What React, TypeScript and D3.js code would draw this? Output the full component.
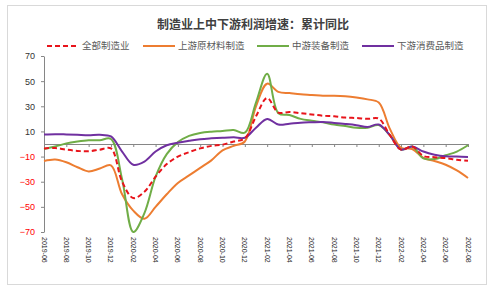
import React, { useEffect, useRef } from "react";
import * as d3 from "d3";

// 月份（累计同比，2019-06 至 2022-08）
const months = [
  "2019-06", "2019-07", "2019-08", "2019-09", "2019-10", "2019-11", "2019-12",
  "2020-01", "2020-02", "2020-03", "2020-04", "2020-05", "2020-06", "2020-07",
  "2020-08", "2020-09", "2020-10", "2020-11", "2020-12", "2021-01", "2021-02",
  "2021-03", "2021-04", "2021-05", "2021-06", "2021-07", "2021-08", "2021-09",
  "2021-10", "2021-11", "2021-12", "2022-01", "2022-02", "2022-03", "2022-04",
  "2022-05", "2022-06", "2022-07", "2022-08",
];

// 全部制造业
const allMfg = [
  -3.5, -3.2, -4.5, -5.5, -5.8, -4.5, -3.5, -30, -43, -38, -26, -16, -10, -6.5,
  -3.5, -1.5, -0.5, 2, 4.5, 22, 36.6, 25, 25.5, 24.5, 23.5, 22.5, 22, 21,
  20.7, 20, 20.2, 7, -4.5, -2, -9.5, -10.5, -11.2, -12.5, -13.3,
];

// 上游原材料制造
const upstream = [
  -13.5, -12.3, -14.5, -18.5, -21.8, -19.5, -17, -40, -53, -59.5, -50, -40, -31,
  -25, -19, -13, -5, -1.5, 2, 30, 48, 41.5, 40.5, 39.5, 39, 38.4, 38.4, 38, 37,
  35.5, 33, 12, -3, -4, -11, -13.5, -16.5, -21, -27,
];

// 中游装备制造
const midstream = [
  -4, -2, 0.5, 2, 3, 3, 4, -28, -70, -55, -26, -8, 1.5, 6.5, 8.8, 9.8, 10.3,
  11.2, 9, 33, 55.9, 24.5, 23, 20, 18.5, 17.2, 15.5, 14.3, 13, 13, 15, 7, -4.5,
  -2, -11.5, -12, -9, -6, -1,
];

// 下游消费品制造
const downstream = [
  7.5, 7.8, 7.6, 7.3, 7, 7.3, 6, -6, -16.5, -14, -6, -1, 1, 2.5, 3.8, 4.5, 5,
  5.3, 5, 13, 19.9, 15.5, 16.2, 17, 17.3, 17.5, 16.8, 16, 15, 13.5, 15.5, 7,
  -4.5, -2, -6, -8.5, -9.8, -10, -10.3,
];

const seriesNames = ["全部制造业", "上游原材料制造", "中游装备制造", "下游消费品制造"];
const yTicks = [-70, -50, -30, -10, 10, 30, 50, 70];

const FONT = "'Liberation Sans', Arial, 'Noto Sans CJK SC', sans-serif";
const CJK = "'Noto Sans CJK SC', 'Liberation Sans', sans-serif";

const ProfitChart = () => {
  const ref = useRef<SVGSVGElement | null>(null);

  useEffect(() => {
    const svg = d3.select(ref.current);
    svg.selectAll("*").remove();

    const series = [
      { name: seriesNames[0], values: allMfg, color: "#e8141b", dash: "5,3" },
      { name: seriesNames[1], values: upstream, color: "#ed7d31", dash: null },
      { name: seriesNames[2], values: midstream, color: "#70ad47", dash: null },
      { name: seriesNames[3], values: downstream, color: "#7030a0", dash: null },
    ];

    const x = d3.scalePoint<string>().domain(months).range([44, 468]);
    const y = d3.scaleLinear().domain([-70, 70]).range([232, 56]);

    // 外框
    svg
      .append("rect")
      .attr("x", 7.5)
      .attr("y", 5.5)
      .attr("width", 479)
      .attr("height", 279)
      .attr("fill", "#fff")
      .attr("stroke", "#d9d9d9");

    // 标题
    svg
      .append("text")
      .attr("x", 253)
      .attr("y", 29)
      .attr("text-anchor", "middle")
      .attr("font-family", CJK)
      .attr("font-weight", "bold")
      .attr("font-size", 12)
      .attr("fill", "#404040")
      .text("制造业上中下游利润增速：累计同比");

    // 图例
    const legendX = [47, 143, 257, 362];
    series.forEach((s, i) => {
      const g = svg.append("g").attr("transform", `translate(${legendX[i]},46)`);
      g.append("line")
        .attr("x1", 0)
        .attr("x2", 32)
        .attr("stroke", s.color)
        .attr("stroke-width", 2)
        .attr("stroke-dasharray", s.dash);
      g.append("text")
        .attr("x", 35)
        .attr("dy", "0.35em")
        .attr("font-family", CJK)
        .attr("font-size", 9.5)
        .attr("fill", "#595959")
        .text(s.name);
    });

    // Y 轴
    const yAxis = svg
      .append("g")
      .attr("transform", "translate(44,0)")
      .call(d3.axisLeft(y).tickValues(yTicks).tickSize(3).tickSizeOuter(0));
    yAxis.select(".domain").attr("stroke", "#868686");
    yAxis.selectAll(".tick line").attr("stroke", "#868686");
    yAxis
      .selectAll<SVGTextElement, number>(".tick text")
      .attr("x", -9)
      .attr("font-family", FONT)
      .attr("font-size", 9)
      .attr("fill", (d) => (d < 0 ? "#ff0000" : "#333333"));

    // 零轴（类别轴）
    const xTickValues = months.filter((_, i) => i % 2 === 0);
    const xAxis = svg
      .append("g")
      .attr("transform", `translate(0,${y(0)})`)
      .call(
        d3
          .axisBottom(x)
          .tickValues(xTickValues)
          .tickSize(3)
          .tickSizeOuter(0)
          .tickFormat(() => "")
      );
    xAxis.select(".domain").attr("stroke", "#868686");
    xAxis.selectAll(".tick line").attr("stroke", "#868686");

    // 月份标签（底部，竖排）
    svg
      .append("g")
      .selectAll("text")
      .data(xTickValues)
      .join("text")
      .attr("transform", (d) => `translate(${x(d)},237) rotate(90)`)
      .attr("dy", "0.35em")
      .attr("font-family", FONT)
      .attr("font-size", 7)
      .attr("fill", "#262626")
      .text((d) => d);

    // 折线
    const line = d3
      .line<number>()
      .x((_, i) => x(months[i]) as number)
      .y((d) => y(d))
      .curve(d3.curveCatmullRom.alpha(0.5));

    [1, 2, 3, 0].forEach((k) => {
      const s = series[k];
      svg
        .append("path")
        .datum(s.values)
        .attr("fill", "none")
        .attr("stroke", s.color)
        .attr("stroke-width", 2)
        .attr("stroke-linejoin", "round")
        .attr("stroke-dasharray", s.dash)
        .attr("d", line);
    });
  }, []);

  return (
    <svg
      ref={ref}
      width={500}
      height={293}
      style={{ position: "absolute", left: 0, top: 0, background: "#fff" }}
    />
  );
};

export default function App() {
  return <ProfitChart />;
}
